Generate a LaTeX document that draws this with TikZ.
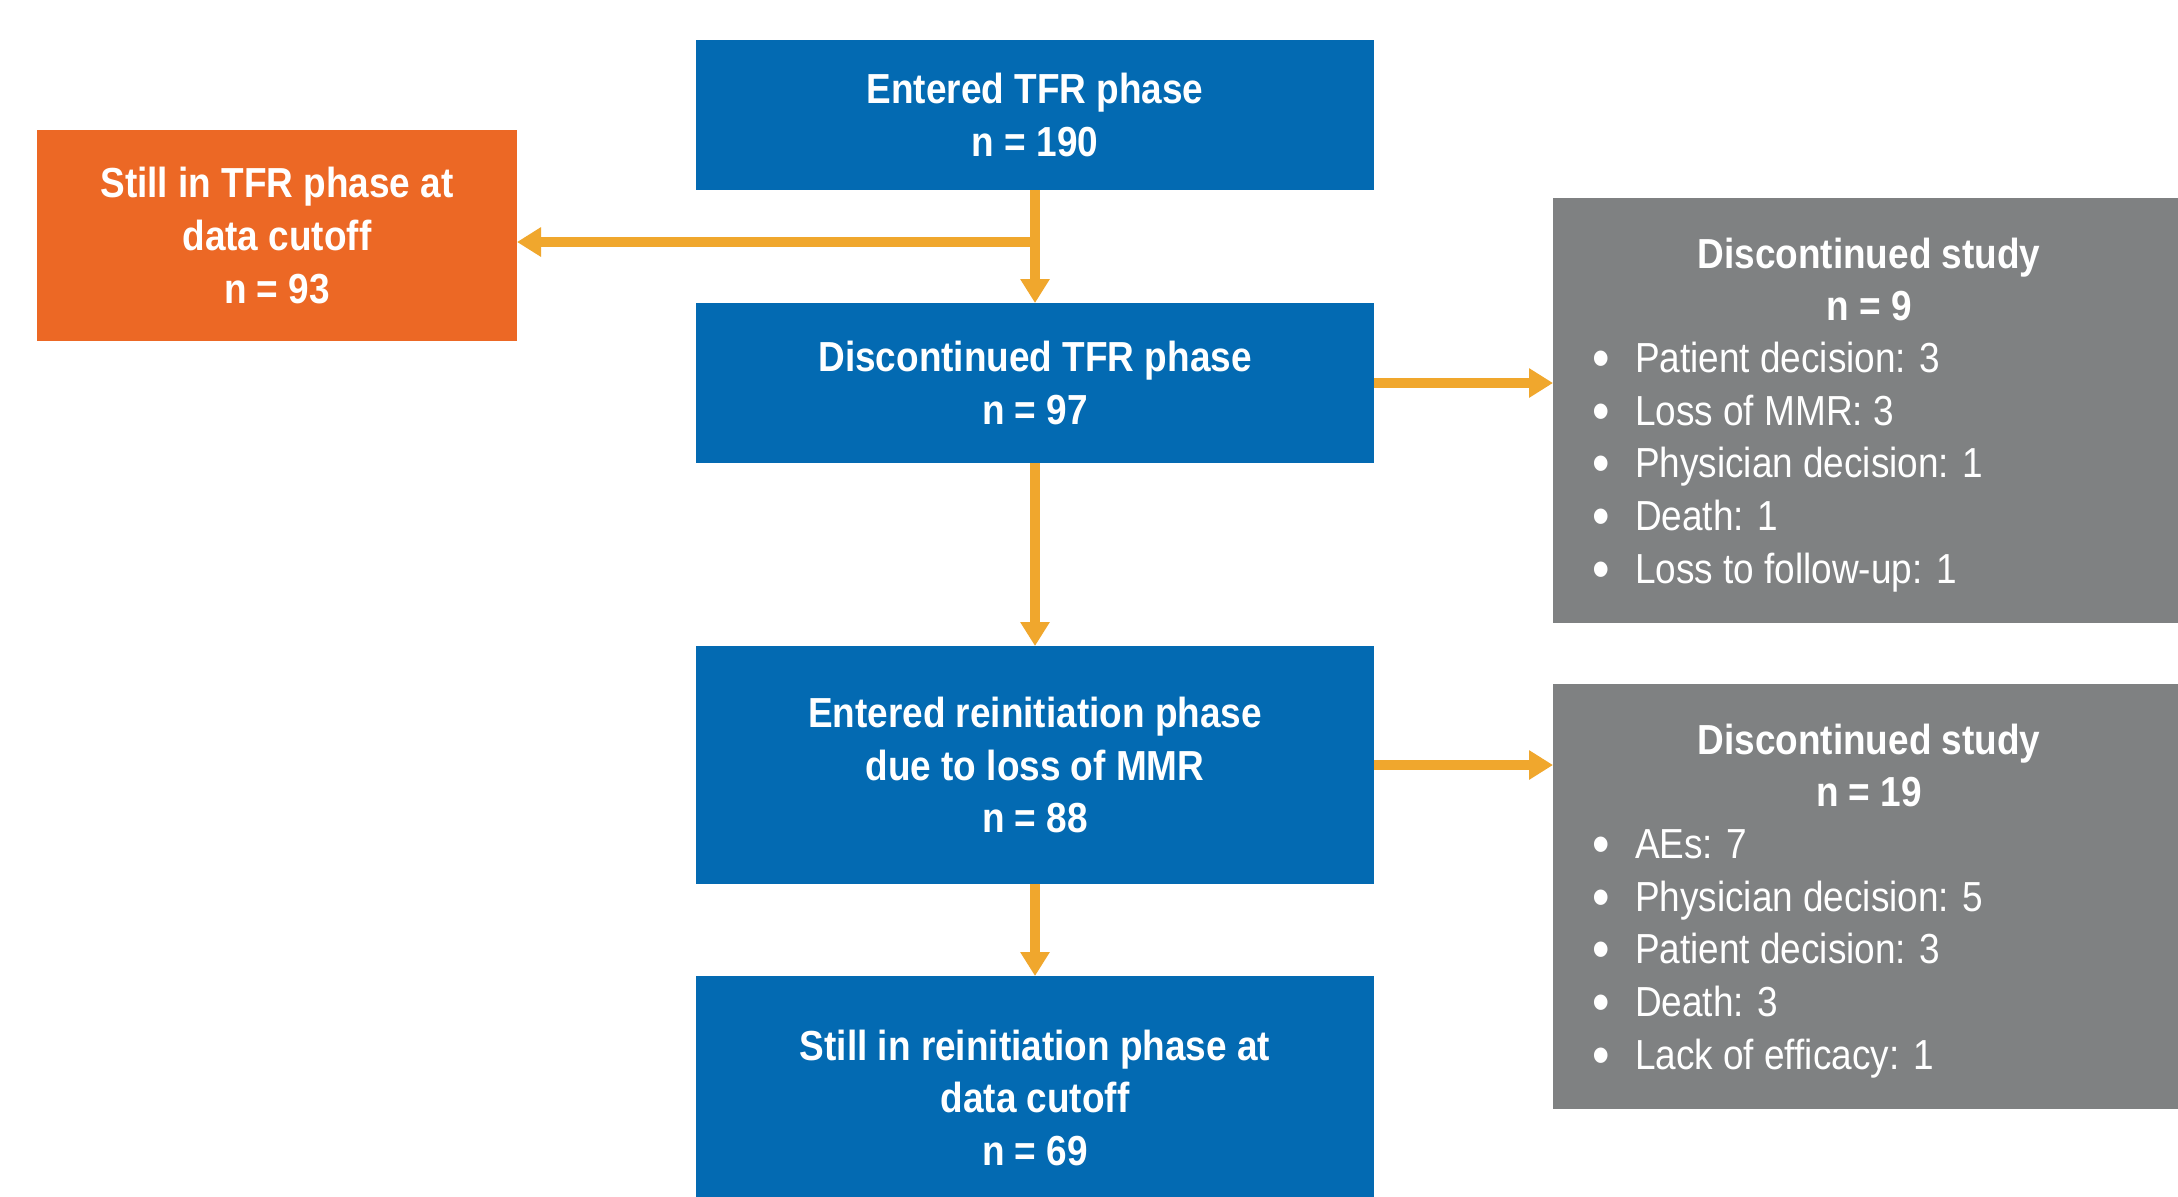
\documentclass[tikz,border=0pt]{standalone}
\usepackage{fontspec}
\usepackage{graphicx}
\setmainfont[FakeStretch=0.88]{Liberation Sans}
\usetikzlibrary{arrows.meta,calc}
\definecolor{boxblue}{RGB}{3,106,178}
\definecolor{boxorange}{RGB}{236,104,37}
\definecolor{boxgray}{RGB}{127,129,130}
\definecolor{arrowcol}{RGB}{240,167,45}
\newcommand{\bigbul}{\raisebox{-0.5mm}{\scalebox{1.35}{•}}}
\begin{document}
\begin{tikzpicture}[x=0.1mm,y=-0.1mm,
  every node/.style={inner sep=0pt,outer sep=0pt},
  fbox/.style={rectangle,text=white,align=center,
    font=\fontsize{11.95}{14.94}\selectfont\bfseries,minimum width=67.8mm},
  bluebox/.style={fbox,fill=boxblue},
  orangebox/.style={fbox,fill=boxorange},
  graybox/.style={rectangle,fill=boxgray,minimum width=63.2mm,minimum height=42.5mm},
  gtxt/.style={text=white,font=\fontsize{11.95}{14.94}\selectfont},
  arr/.style={draw=arrowcol,line width=0.95mm,-{Triangle[length=2.4mm,width=2.8mm]}}
]
\path[use as bounding box,fill=white] (0,0) rectangle (2178,1196);

\node[bluebox,minimum height=15mm] (a) at (1035,115) {Entered TFR phase\\n = 190};
\node[orangebox,minimum width=48mm,minimum height=21.1mm] (o) at (277,235.5) {Still in TFR phase at\\data cutoff\\n = 93};
\node[bluebox,minimum height=16mm] (b) at (1035,383) {Discontinued TFR phase\\n = 97};
\node[bluebox,minimum height=23.8mm] (c) at (1035,765) {Entered reinitiation phase\\due to loss of MMR\\n = 88};
\node[bluebox,minimum height=24.3mm] (d) at (1035,1097.5) {Still in reinitiation phase at\\data cutoff\\n = 69};

\node[graybox] (g1) at (1869,410.5) {};
\node[graybox] (g2) at (1869,896.5) {};

% gray box 1 text
\node[gtxt,anchor=base,font=\fontsize{11.95}{14.94}\selectfont\bfseries] (g1t) at ($(g1.north)+(0,70)$) {Discontinued study};
\node[gtxt,anchor=base,font=\fontsize{11.95}{14.94}\selectfont\bfseries] (g1n) at ($(g1.north)+(0,122)$) {n = 9};
\foreach \t [count=\i] in {Patient decision: 3,Loss of MMR: 3,Physician decision: 1,Death: 1,Loss to follow-up: 1}{
  \node[gtxt,anchor=base] (g1b\i) at ($(g1.north west)+(48,122+52.6*\i)$) {\bigbul};
  \node[gtxt,anchor=base west] (g1l\i) at ($(g1.north west)+(82,122+52.6*\i)$) {\t};
}
% gray box 2 text
\node[gtxt,anchor=base,font=\fontsize{11.95}{14.94}\selectfont\bfseries] (g2t) at ($(g2.north)+(0,70)$) {Discontinued study};
\node[gtxt,anchor=base,font=\fontsize{11.95}{14.94}\selectfont\bfseries] (g2n) at ($(g2.north)+(0,122)$) {n = 19};
\foreach \t [count=\i] in {AEs: 7,Physician decision: 5,Patient decision: 3,Death: 3,Lack of efficacy: 1}{
  \node[gtxt,anchor=base] (g2b\i) at ($(g2.north west)+(48,122+52.6*\i)$) {\bigbul};
  \node[gtxt,anchor=base west] (g2l\i) at ($(g2.north west)+(82,122+52.6*\i)$) {\t};
}

% connectors
\path (a.south) ++(0,52) coordinate (split);
\draw[arr] (a.south) -- (b.north);
\draw[arr] (split) -- (split -| o.east);
\draw[arr] (b.east) -- (b.east -| g1.west);
\draw[arr] (b.south) -- (c.north);
\draw[arr] (c.east) -- (c.east -| g2.west);
\draw[arr] (c.south) -- (d.north);
\end{tikzpicture}
\end{document}
